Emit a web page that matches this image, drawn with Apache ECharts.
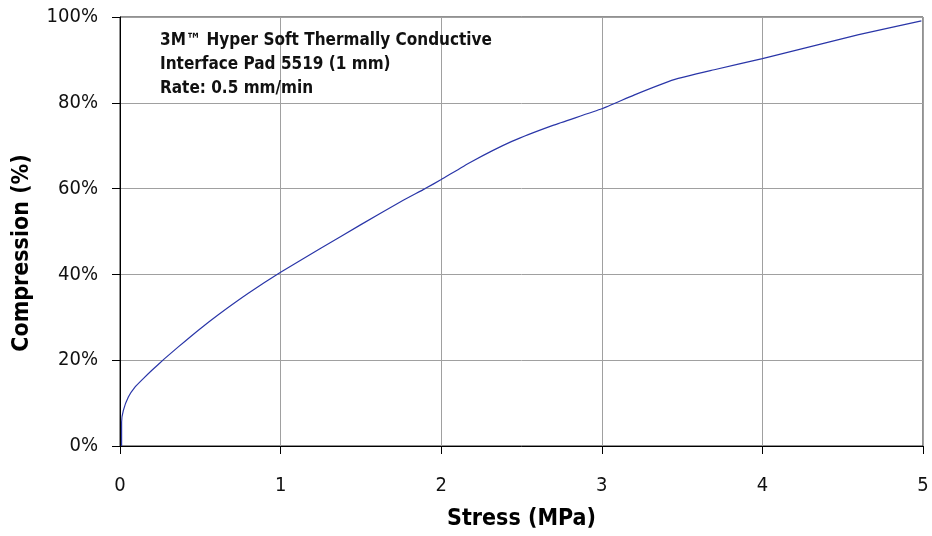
<!DOCTYPE html>
<html>
<head>
<meta charset="utf-8">
<script src="https://cdn.jsdelivr.net/npm/echarts@6/dist/echarts.min.js"></script>
<style>
html,body{margin:0;padding:0;background:#fff;}
#chart{width:932px;height:536px;}
</style>
</head>
<body>
<div id="chart"></div>
<script>
var FONT = "'Liberation Sans Narrow','DejaVu Sans Condensed','Arial Narrow',sans-serif";
var stress = [0.01,0.01,0.021,0.052,0.093,0.145,0.197,0.276,0.363,0.488,0.612,0.799,1.0,1.25,1.5,1.75,1.9,2.0,2.18,2.44,2.7,3.0,3.2,3.45,3.7,4.0,4.3,4.6,4.99];
var compression = [0,5.6,8.3,11.4,13.7,15.7,17.6,20.3,23.1,27.0,30.6,35.6,40.5,46.1,51.6,57.0,60.0,62.1,66.1,71.0,74.8,78.6,81.8,85.4,87.7,90.3,93.1,95.9,99.1];
var annotationLines = ["3M\u2122 Hyper Soft Thermally Conductive", "Interface Pad 5519 (1 mm)", "Rate: 0.5 mm/min"];
var xTitle = "Stress (MPa)";
var yTitle = "Compression (%)";

var pts = stress.map(function(s, i){ return [s, compression[i]]; });

var chart = echarts.init(document.getElementById('chart'), null, {renderer:'canvas'});
chart.setOption({
  animation: false,
  backgroundColor: '#ffffff',
  title: {
    text: annotationLines.join('\n'),
    left: 155, top: 24,
    textStyle: {fontFamily: FONT, fontSize: 17, fontWeight: 'bold', color: '#111', lineHeight: 24}
  },
  graphic: [{
    type: 'text', x: 22, y: 253, rotation: Math.PI / 2,
    style: {text: yTitle, fontFamily: FONT, fontSize: 23, fontWeight: 'bold', fill: '#000',
            align: 'center', verticalAlign: 'middle'}
  }],
  grid: {left: 120, right: 9, top: 17, bottom: 86, show: true, borderColor: '#222', borderWidth: 1},
  xAxis: {
    type: 'value', min: 0, max: 5, interval: 1,
    name: xTitle, nameLocation: 'middle', nameGap: 62,
    nameTextStyle: {fontFamily: FONT, fontSize: 23, fontWeight: 'bold', color: '#000'},
    axisLine: {show: true, onZero: false, lineStyle: {color: '#000', width: 1}},
    axisTick: {show: true, length: 8, inside: false, lineStyle: {color: '#000'}},
    axisLabel: {fontFamily: FONT, fontSize: 20, color: '#111', margin: 30},
    splitLine: {show: true, lineStyle: {color: '#a0a0a0', width: 1}}
  },
  yAxis: {
    type: 'value', min: 0, max: 100, interval: 20,
    axisLine: {show: true, onZero: false, lineStyle: {color: '#000', width: 1}},
    axisTick: {show: true, length: 8, inside: false, lineStyle: {color: '#000'}},
    axisLabel: {fontFamily: FONT, fontSize: 20, color: '#111', margin: 22, formatter: '{value}%'},
    splitLine: {show: true, lineStyle: {color: '#a0a0a0', width: 1}}
  },
  series: [{
    type: 'line', data: pts, showSymbol: false, smooth: 0.15,
    lineStyle: {color: '#2a36a8', width: 1.2}
  }]
});
</script>
</body>
</html>
